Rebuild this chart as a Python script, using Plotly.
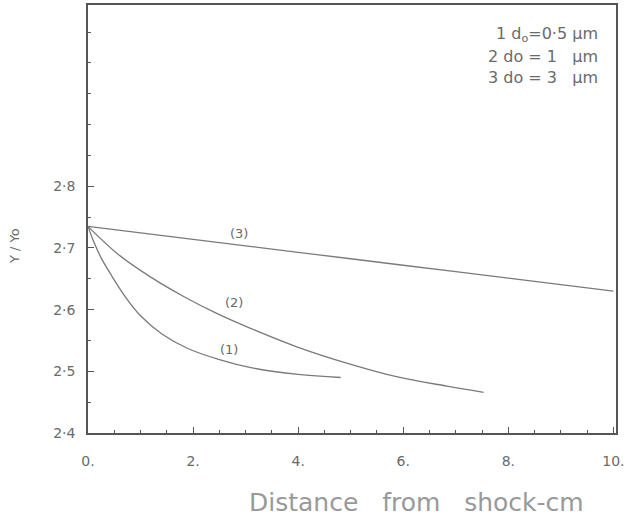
import plotly.graph_objects as go

# Curve data
x1 = [0.0, 0.1, 0.25, 0.45, 0.7, 1.0, 1.4, 1.9, 2.5, 3.1, 4.0, 4.81]
y1 = [2.735, 2.712, 2.684, 2.655, 2.622, 2.59, 2.561, 2.537, 2.519, 2.506, 2.495, 2.49]
x2 = [0.0, 0.57, 1.21, 1.83, 2.45, 3.06, 4.0, 4.94, 5.89, 6.83, 7.53]
y2 = [2.735, 2.69, 2.652, 2.621, 2.594, 2.571, 2.539, 2.513, 2.491, 2.476, 2.466]
x3 = [0.0, 2.0, 4.0, 6.0, 8.0, 10.0]
y3 = [2.735, 2.714, 2.693, 2.672, 2.651, 2.63]

curve_labels = ["(1)", "(2)", "(3)"]
label_x = [2.68, 2.77, 2.87]
label_y = [2.536, 2.612, 2.724]

legend_lines = ["1 d<sub>o</sub>=0·5 μm", "2 do = 1   μm", "3 do = 3   μm"]

x_tickvals = [0, 2, 4, 6, 8, 10]
x_ticktext = ["0.", "2.", "4.", "6.", "8.", "10."]
y_tickvals = [2.4, 2.5, 2.6, 2.7, 2.8]
y_ticktext = ["2·4", "2·5", "2·6", "2·7", "2·8"]

x_title = "Distance   from   shock-cm"
y_title = "Y / Yo"

line_col = "#7a7a7a"
axis_col = "#555555"
text_col = "#6a6a6a"
font_fam = "DejaVu Sans, sans-serif"

fig = go.Figure()
for xs, ys in [(x1, y1), (x2, y2), (x3, y3)]:
    fig.add_trace(go.Scatter(x=xs, y=ys, mode="lines",
                             line=dict(color=line_col, width=1.3, shape="spline", smoothing=1.0),
                             showlegend=False, hoverinfo="skip"))

for t, lx, ly in zip(curve_labels, label_x, label_y):
    fig.add_annotation(x=lx, y=ly, text=t, showarrow=False,
                       font=dict(size=13, color=text_col, family=font_fam))

legend_y = [0.93, 0.879, 0.83]
for t, ly in zip(legend_lines, legend_y):
    fig.add_annotation(xref="paper", yref="paper", x=0.97, y=ly,
                       text=t, showarrow=False, xanchor="right", yanchor="middle",
                       font=dict(size=16, color=text_col, family=font_fam))

fig.add_annotation(xref="paper", yref="paper", x=0.302, y=-0.163, xanchor="left",
                   yanchor="middle", text=x_title, showarrow=False,
                   font=dict(size=25, color="#999999", family=font_fam))
fig.add_annotation(xref="paper", yref="paper", x=-0.138, y=0.437, xanchor="center",
                   yanchor="middle", text=y_title, showarrow=False, textangle=-90,
                   font=dict(size=13, color=text_col, family=font_fam))

fig.update_xaxes(range=[0, 10.05], tickvals=x_tickvals, ticktext=x_ticktext,
                 ticks="inside", ticklen=6, tickcolor=axis_col,
                 minor=dict(dtick=0.5, ticks="inside", ticklen=3, tickcolor=axis_col),
                 showline=True, linecolor=axis_col, linewidth=1.5, mirror=True,
                 showgrid=False, zeroline=False,
                 tickfont=dict(size=14, color=text_col, family=font_fam),
                 ticklabelstandoff=14)
fig.update_yaxes(range=[2.4, 3.094], tickvals=y_tickvals, ticktext=y_ticktext,
                 ticks="inside", ticklen=6, tickcolor=axis_col,
                 minor=dict(dtick=0.05, ticks="inside", ticklen=3, tickcolor=axis_col),
                 showline=True, linecolor=axis_col, linewidth=1.5, mirror=True,
                 showgrid=False, zeroline=False,
                 tickfont=dict(size=14, color=text_col, family=font_fam),
                 ticklabelstandoff=8)

fig.update_layout(width=628, height=529, margin=dict(l=88, r=12, t=3, b=96),
                  plot_bgcolor="white", paper_bgcolor="white")
fig.write_html("out.html")
